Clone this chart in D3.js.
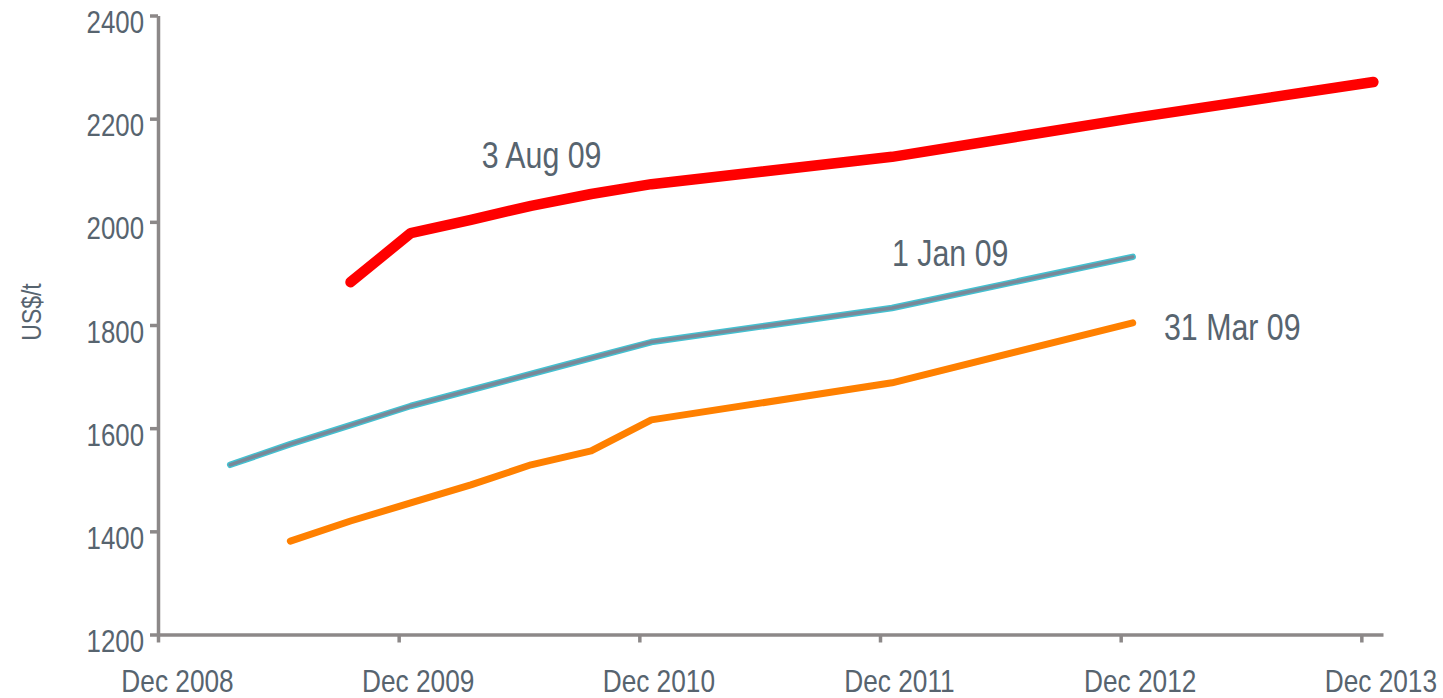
<!DOCTYPE html>
<html>
<head>
<meta charset="utf-8">
<script src="https://cdn.jsdelivr.net/npm/d3@7"></script>
<style>
  html, body { margin: 0; padding: 0; background: #ffffff; }
  svg { display: block; }
  text { font-family: "Liberation Sans", Arial, sans-serif; fill: #57646f; }
</style>
</head>
<body>
<svg id="chart" width="1443" height="698"></svg>
<script>
// Years since Dec 2008
const xTickValues = [0, 1, 2, 3, 4, 5];
const xTickLabels = ["Dec 2008", "Dec 2009", "Dec 2010", "Dec 2011", "Dec 2012", "Dec 2013"];
const yTickValues = [1200, 1400, 1600, 1800, 2000, 2200, 2400];
const yTitle = "US$/t";

const aug09X = [0.80, 1.05, 1.30, 1.55, 1.80, 2.05, 3.05, 4.05, 5.05];
const aug09Y = [1883, 1978, 2004, 2031, 2054, 2073, 2126, 2201, 2271];

const jan09X = [0.30, 0.55, 0.80, 1.05, 1.30, 1.55, 1.80, 2.05, 3.05, 4.05];
const jan09Y = [1529, 1569, 1606, 1643, 1674, 1705, 1736, 1767, 1833, 1932];

const mar09X = [0.55, 0.80, 1.05, 1.30, 1.55, 1.80, 2.05, 3.05, 4.05];
const mar09Y = [1381, 1420, 1455, 1490, 1529, 1556, 1616, 1688, 1804];

const seriesNames = ["3 Aug 09", "1 Jan 09", "31 Mar 09"];

const svg = d3.select("#chart");
const axisColor = "#8c8888";
const narrow = 0.82; // condensed text look

const x = d3.scaleLinear().domain([0, 5.09]).range([158, 1383]);
const y = d3.scaleLinear().domain([1200, 2400]).range([634.5, 15.5]);

// Y axis
const yAxis = svg.append("g")
  .attr("transform", "translate(158,0)")
  .call(d3.axisLeft(y).tickValues(yTickValues).tickFormat(d3.format("d")).tickSize(8).tickSizeOuter(0));
yAxis.select(".domain").attr("stroke", axisColor).attr("stroke-width", 3.5);
yAxis.selectAll(".tick line").attr("stroke", axisColor).attr("stroke-width", 3.5);
yAxis.selectAll(".tick text")
  .attr("font-size", 31.5).attr("x", 0).attr("y", 0).attr("dy", 0)
  .attr("text-anchor", "end")
  .attr("transform", `translate(-14,17) scale(${narrow},1)`)
  .style("fill", "#57646f");

// X axis
const xAxis = svg.append("g")
  .attr("transform", "translate(0,634.5)")
  .call(d3.axisBottom(x).tickValues(xTickValues).tickFormat((d, i) => xTickLabels[i]).tickSize(8).tickSizeOuter(0));
xAxis.select(".domain").attr("stroke", axisColor).attr("stroke-width", 3.5);
xAxis.selectAll(".tick line").attr("stroke", axisColor).attr("stroke-width", 3.5);
xAxis.selectAll(".tick text")
  .attr("font-size", 32).attr("x", 0).attr("y", 0).attr("dy", 0)
  .attr("text-anchor", "middle")
  .attr("transform", `translate(19,57.5) scale(${narrow},1)`)
  .style("fill", "#57646f");

// Y title
svg.append("text")
  .attr("transform", `translate(41,312) rotate(-90) scale(${narrow},1)`)
  .attr("text-anchor", "middle")
  .attr("font-size", 28)
  .text(yTitle);

const line = d3.line().x(d => x(d[0])).y(d => y(d[1]));

// 3 Aug 09 (red)
svg.append("path")
  .datum(d3.zip(aug09X, aug09Y))
  .attr("d", line)
  .attr("fill", "none").attr("stroke", "#ff0000").attr("stroke-width", 10.5)
  .attr("stroke-linecap", "round").attr("stroke-linejoin", "round");

// 31 Mar 09 (orange)
svg.append("path")
  .datum(d3.zip(mar09X, mar09Y))
  .attr("d", line)
  .attr("fill", "none").attr("stroke", "#ff8000").attr("stroke-width", 7)
  .attr("stroke-linecap", "round").attr("stroke-linejoin", "round");

// 1 Jan 09 (teal outline, gray core)
svg.append("path")
  .datum(d3.zip(jan09X, jan09Y))
  .attr("d", line)
  .attr("fill", "none").attr("stroke", "#45c0d0").attr("stroke-width", 6.5)
  .attr("stroke-linecap", "round").attr("stroke-linejoin", "round");
svg.append("path")
  .datum(d3.zip(jan09X, jan09Y))
  .attr("d", line)
  .attr("fill", "none").attr("stroke", "#7a8898").attr("stroke-width", 3.5)
  .attr("stroke-linecap", "round").attr("stroke-linejoin", "round");

// Series annotations
const labelPos = [
  {xv: 1.345, yv: 2104},
  {xv: 3.05,  yv: 1914},
  {xv: 4.18,  yv: 1771}
];
seriesNames.forEach((name, i) => {
  svg.append("text")
    .attr("transform", `translate(${x(labelPos[i].xv)},${y(labelPos[i].yv)}) scale(${narrow},1)`)
    .attr("font-size", 37)
    .text(name);
});
</script>
</body>
</html>
